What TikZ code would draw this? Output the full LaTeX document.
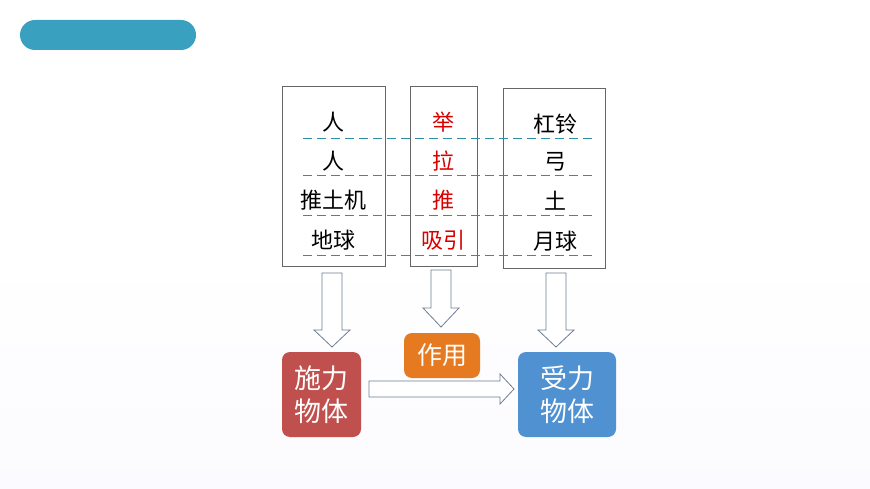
\documentclass[tikz,border=0pt]{standalone}
\usepackage{fontspec}
\setmainfont{Noto Sans CJK SC}
\definecolor{dash}{RGB}{50,140,165}
\definecolor{blkc}{RGB}{110,125,150}
\begin{document}
\begin{tikzpicture}[x=1pt,y=-1pt,
  col/.style={draw=gray!80!black,line width=0.9pt},
  cell/.style={font=\fontsize{22}{24}\selectfont,inner sep=0pt},
  red/.style={cell,text=red!85!black},
  dl/.style={draw=dash,dash pattern=on 9pt off 5pt,line width=0.8pt},
  blk/.style={draw=blkc,fill=white,line width=0.8pt},
  card/.style={rounded corners=8pt,text=white,font=\fontsize{27}{33}\selectfont,align=center,inner sep=0pt}]
\useasboundingbox[fill=white] (0,0) rectangle (870,489);
\fill[top color=white,bottom color=blue!1.5] (0,250) rectangle (870,489);
\fill[rounded corners=15pt,fill={rgb,255:red,58;green,160;blue,192}] (20,20) rectangle (196,50);
\draw[col] (282,86) rectangle (385,266);
\draw[col] (410,86) rectangle (477,266);
\draw[col] (503,88) rectangle (605,268);
\foreach \y in {138,175,215,255} \draw[dl] (303,\y) -- (596,\y);
\node[cell] (a1) at (333,122) {人};
\node[cell] (a2) at (333,161) {人};
\node[cell] (a3) at (333,200) {推土机};
\node[cell] (a4) at (333,240) {地球};
\node[red] (b1) at (443,122) {举};
\node[red] (b2) at (443,161) {拉};
\node[red] (b3) at (443,200) {推};
\node[red] (b4) at (443,240) {吸引};
\node[cell] (c1) at (555,124) {杠铃};
\node[cell] (c2) at (555,162) {弓};
\node[cell] (c3) at (555,201) {土};
\node[cell] (c4) at (555,241) {月球};
\draw[blk] (322,273) -- (342,273) -- (342,330) -- (350,330) -- (332,347) -- (314,330) -- (322,330) -- cycle;
\draw[blk] (431,270) -- (451,270) -- (451,308) -- (459,308) -- (441,327) -- (423,308) -- (431,308) -- cycle;
\draw[blk] (546,273) -- (566,273) -- (566,330) -- (574,330) -- (556,347) -- (538,330) -- (546,330) -- cycle;
\draw[blk] (369,381) -- (500,381) -- (500,374) -- (514,389) -- (500,404) -- (500,397) -- (369,397) -- cycle;
\node[card,fill={rgb,255:red,192;green,80;blue,77},minimum width=79pt,minimum height=85pt] (s) at (321.5,394.5) {施力\\物体};
\node[card,fill={rgb,255:red,230;green,122;blue,32},minimum width=76pt,minimum height=45pt,font=\fontsize{25}{28}\selectfont] (z) at (442,355.5) {作用};
\node[card,fill={rgb,255:red,80;green,145;blue,210},minimum width=98pt,minimum height=85pt] (r) at (567,394.5) {受力\\物体};
\end{tikzpicture}
\end{document}
